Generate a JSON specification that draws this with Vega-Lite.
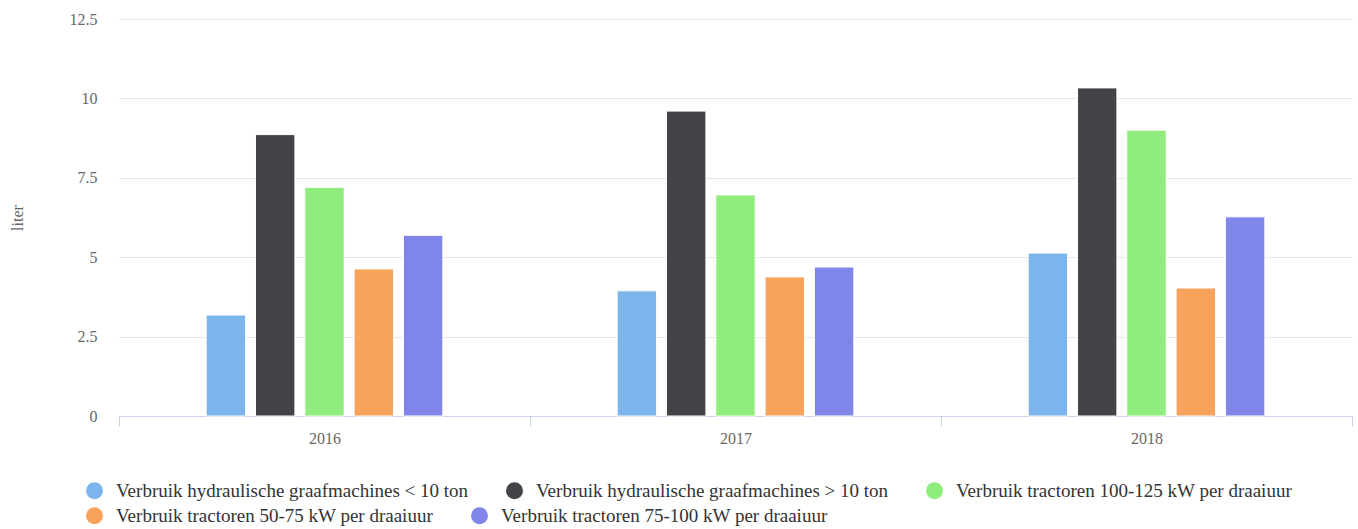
{
  "$schema": "https://vega.github.io/schema/vega-lite/v6.json",
  "width": 1233,
  "height": 397,
  "autosize": {"type": "none"},
  "padding": {"left": 119, "top": 19, "right": 6, "bottom": 113},
  "background": "white",
  "config": {
    "view": {"stroke": null},
    "font": "Liberation Serif"
  },
  "data": {
    "values": [
      {"jaar": "2016", "serie": "Verbruik hydraulische graafmachines < 10 ton", "liter": 3.18},
      {"jaar": "2016", "serie": "Verbruik hydraulische graafmachines > 10 ton", "liter": 8.86},
      {"jaar": "2016", "serie": "Verbruik tractoren 100-125 kW per draaiuur", "liter": 7.2},
      {"jaar": "2016", "serie": "Verbruik tractoren 50-75 kW per draaiuur", "liter": 4.63},
      {"jaar": "2016", "serie": "Verbruik tractoren 75-100 kW per draaiuur", "liter": 5.69},
      {"jaar": "2017", "serie": "Verbruik hydraulische graafmachines < 10 ton", "liter": 3.94},
      {"jaar": "2017", "serie": "Verbruik hydraulische graafmachines > 10 ton", "liter": 9.6},
      {"jaar": "2017", "serie": "Verbruik tractoren 100-125 kW per draaiuur", "liter": 6.96},
      {"jaar": "2017", "serie": "Verbruik tractoren 50-75 kW per draaiuur", "liter": 4.38},
      {"jaar": "2017", "serie": "Verbruik tractoren 75-100 kW per draaiuur", "liter": 4.69},
      {"jaar": "2018", "serie": "Verbruik hydraulische graafmachines < 10 ton", "liter": 5.13},
      {"jaar": "2018", "serie": "Verbruik hydraulische graafmachines > 10 ton", "liter": 10.33},
      {"jaar": "2018", "serie": "Verbruik tractoren 100-125 kW per draaiuur", "liter": 9.0},
      {"jaar": "2018", "serie": "Verbruik tractoren 50-75 kW per draaiuur", "liter": 4.03},
      {"jaar": "2018", "serie": "Verbruik tractoren 75-100 kW per draaiuur", "liter": 6.27}
    ]
  },
  "encoding": {
    "x": {
      "field": "jaar",
      "type": "nominal",
      "scale": {"paddingInner": 0, "paddingOuter": 0},
      "axis": {
        "title": null,
        "labelAngle": 0,
        "labelFontSize": 16,
        "labelColor": "#666666",
        "labelPadding": 4,
        "domainColor": "#ccd6eb",
        "tickColor": "#ccd6eb",
        "tickSize": 10,
        "tickBand": "extent",
        "grid": false
      }
    },
    "xOffset": {
      "field": "serie",
      "type": "nominal",
      "scale": {
        "domain": [
          "_pad_links",
          "Verbruik hydraulische graafmachines < 10 ton",
          "Verbruik hydraulische graafmachines > 10 ton",
          "Verbruik tractoren 100-125 kW per draaiuur",
          "Verbruik tractoren 50-75 kW per draaiuur",
          "Verbruik tractoren 75-100 kW per draaiuur",
          "_pad_rechts"
        ],
        "paddingInner": 0.2,
        "paddingOuter": 0.767
      }
    },
    "y": {
      "field": "liter",
      "type": "quantitative",
      "scale": {"domain": [0, 12.5], "nice": false},
      "axis": {
        "title": "liter",
        "titleFontSize": 16,
        "titleFontWeight": "normal",
        "titleColor": "#666666",
        "titleX": -94,
        "values": [0, 2.5, 5, 7.5, 10, 12.5],
        "format": ".1~f",
        "labelFontSize": 16,
        "labelColor": "#666666",
        "labelPadding": 22,
        "ticks": false,
        "tickSize": 0,
        "domain": false,
        "grid": true,
        "gridColor": "#e6e6e6",
        "gridWidth": 1
      }
    }
  },
  "layer": [
    {
      "transform": [
        {"filter": {"field": "serie", "oneOf": [
          "Verbruik hydraulische graafmachines < 10 ton",
          "Verbruik hydraulische graafmachines > 10 ton",
          "Verbruik tractoren 100-125 kW per draaiuur"
        ]}}
      ],
      "mark": {"type": "bar", "stroke": "white", "strokeWidth": 1},
      "encoding": {
        "color": {
          "field": "serie",
          "type": "nominal",
          "scale": {
            "domain": [
              "Verbruik hydraulische graafmachines < 10 ton",
              "Verbruik hydraulische graafmachines > 10 ton",
              "Verbruik tractoren 100-125 kW per draaiuur"
            ],
            "range": ["#7cb5ec", "#434348", "#90ed7d"]
          },
          "legend": {
            "title": null,
            "orient": "none",
            "legendX": -34,
            "legendY": 462,
            "direction": "horizontal",
            "columns": 3,
            "symbolType": "circle",
            "symbolSize": 289,
            "symbolStrokeWidth": 0,
            "symbolOpacity": 1,
            "labelFontSize": 19,
            "labelColor": "#333333",
            "labelOffset": 12,
            "labelLimit": 700,
            "columnPadding": 36
          }
        }
      }
    },
    {
      "transform": [
        {"filter": {"field": "serie", "oneOf": [
          "Verbruik tractoren 50-75 kW per draaiuur",
          "Verbruik tractoren 75-100 kW per draaiuur"
        ]}}
      ],
      "mark": {"type": "bar", "stroke": "white", "strokeWidth": 1},
      "encoding": {
        "color": {
          "field": "serie",
          "type": "nominal",
          "scale": {
            "domain": [
              "Verbruik tractoren 50-75 kW per draaiuur",
              "Verbruik tractoren 75-100 kW per draaiuur"
            ],
            "range": ["#f7a35c", "#8085e9"]
          },
          "legend": {
            "title": null,
            "orient": "none",
            "legendX": -34,
            "legendY": 487,
            "direction": "horizontal",
            "columns": 2,
            "symbolType": "circle",
            "symbolSize": 289,
            "symbolStrokeWidth": 0,
            "symbolOpacity": 1,
            "labelFontSize": 19,
            "labelColor": "#333333",
            "labelOffset": 12,
            "labelLimit": 700,
            "columnPadding": 36
          }
        }
      }
    }
  ],
  "resolve": {"scale": {"color": "independent"}, "legend": {"color": "independent"}}
}
